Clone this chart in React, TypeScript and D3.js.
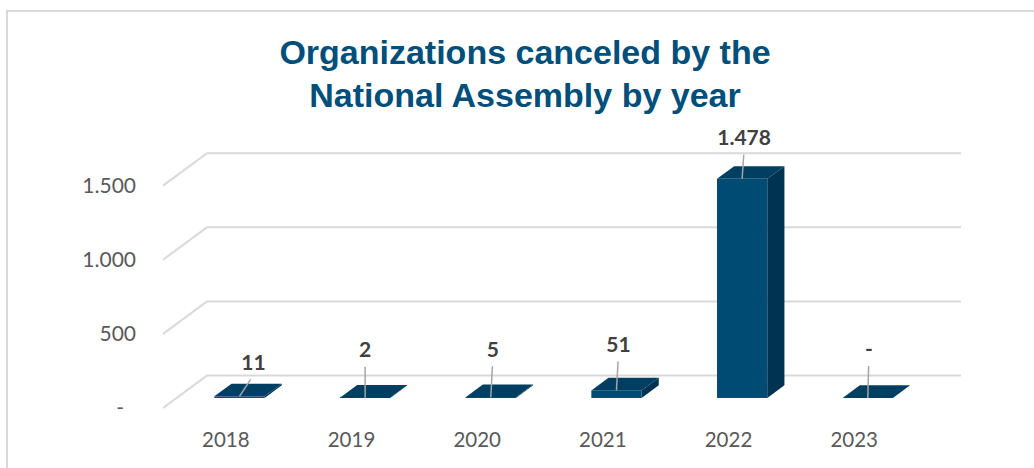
import React from "react";
import * as d3 from "d3";

const years = ["2018", "2019", "2020", "2021", "2022", "2023"];
const values = [11, 2, 5, 51, 1478, 0];
const tickValues = [0, 500, 1000, 1500];
const valueLabels = ["11", "2", "5", "51", "1.478", "-"];
// label nudges relative to the top-front centre of each bar
const labelNudge: [number, number][] = [
  [14, -34],
  [0, -48],
  [2, -48],
  [2, -46],
  [2, -41],
  [1, -49],
];
const titleLines = ["Organizations canceled by the", "National Assembly by year"];

const W = 1034;
const H = 468;
const FRONT_LEFT = 163;
const FRONT_RIGHT = 917;
const Y0 = 408;
const YTOP = 185.6;
const DEPTH_X = 44;
const DEPTH_Y = -32.4;
const BAR_F0 = 0.31;
const BAR_F1 = 0.70;

const fmtTick = (v: number) => (v === 0 ? "-" : d3.format(",")(v).replace(/,/g, "."));

export default function App() {
  const x = d3
    .scaleBand<string>()
    .domain(years)
    .range([FRONT_LEFT, FRONT_RIGHT])
    .paddingInner(0.6)
    .paddingOuter(0.3);
  const y = d3.scaleLinear().domain([0, 1500]).range([Y0, YTOP]);
  const bw = x.bandwidth();

  const fx = DEPTH_X * BAR_F0;
  const fy = DEPTH_Y * BAR_F0;
  const bx = DEPTH_X * BAR_F1;
  const by = DEPTH_Y * BAR_F1;

  const front = "#004b73";
  const top = "#003f61";
  const side = "#00334f";

  return (
    <svg
      width={W}
      height={H}
      style={{ position: "absolute", left: 0, top: 0, background: "#fff" }}
    >
      <rect x={7} y={11} width={W + 10} height={H + 10} fill="#fff" stroke="#d9d9d9" strokeWidth={2} />
      {titleLines.map((t, i) => (
        <text
          key={t}
          x={525}
          y={64 + i * 43}
          textAnchor="middle"
          fontFamily="'Liberation Sans', Arial, sans-serif"
          fontWeight="bold"
          fontSize={34}
          fill="#004f7a"
        >
          {t}
        </text>
      ))}
      {/* gridlines */}
      {tickValues.map((v) => {
        const yy = y(v);
        const path = d3.path();
        path.moveTo(FRONT_LEFT, yy);
        path.lineTo(FRONT_LEFT + DEPTH_X, yy + DEPTH_Y);
        path.lineTo(FRONT_RIGHT + DEPTH_X, yy + DEPTH_Y);
        return <path key={v} d={path.toString()} fill="none" stroke="#d9d9d9" strokeWidth={2} />;
      })}
      {/* tick labels */}
      {tickValues.map((v) => (
        <text
          key={"t" + v}
          x={v === 0 ? 124 : 136}
          y={y(v)}
          dy="0.35em"
          textAnchor="end"
          fontFamily="Lato, 'Open Sans', sans-serif"
          fontSize={21}
          fill="#595959"
        >
          {fmtTick(v)}
        </text>
      ))}
      {/* category labels */}
      {years.map((yr) => (
        <text
          key={"c" + yr}
          x={(x(yr) as number) + bw / 2}
          y={440}
          dy="0.35em"
          textAnchor="middle"
          fontFamily="Lato, 'Open Sans', sans-serif"
          fontSize={20.5}
          fill="#595959"
        >
          {yr}
        </text>
      ))}
      {/* bars */}
      {years.map((yr, i) => {
        const v = values[i];
        const x0 = (x(yr) as number) + fx;
        const x1 = x0 + bw;
        const yb = Y0 + fy;
        const yt = y(v) + fy;
        const ddx = bx - fx;
        const ddy = by - fy;
        const topPts = [
          [x0, yt],
          [x1, yt],
          [x1 + ddx, yt + ddy],
          [x0 + ddx, yt + ddy],
        ];
        const sidePts = [
          [x1, yt],
          [x1 + ddx, yt + ddy],
          [x1 + ddx, yb + ddy],
          [x1, yb],
        ];
        return (
          <g key={"b" + yr}>
            {v > 0 && (
              <>
                <polygon points={sidePts.map((p) => p.join(",")).join(" ")} fill={side} />
                <rect x={x0} y={Math.min(yt, yb - 1)} width={bw} height={Math.max(1, yb - yt)} fill={front} />
              </>
            )}
            <polygon points={topPts.map((p) => p.join(",")).join(" ")} fill={top} />
          </g>
        );
      })}
      {/* data labels with leader lines */}
      {years.map((yr, i) => {
        const v = values[i];
        const cx = (x(yr) as number) + fx + bw / 2;
        const cy = y(v) + fy;
        const lx = cx + labelNudge[i][0];
        const ly = cy + labelNudge[i][1];
        return (
          <g key={"l" + yr}>
            <line
              x1={cx}
              y1={cy}
              x2={cx + labelNudge[i][0] * 0.8}
              y2={ly + 17}
              stroke="#a6a6a6"
              strokeWidth={1.5}
            />
            <text
              x={lx}
              y={ly}
              dy="0.35em"
              textAnchor="middle"
              fontFamily="Lato, 'Open Sans', sans-serif"
              fontWeight="bold"
              fontSize={21}
              fill="#404040"
            >
              {valueLabels[i]}
            </text>
          </g>
        );
      })}
    </svg>
  );
}
